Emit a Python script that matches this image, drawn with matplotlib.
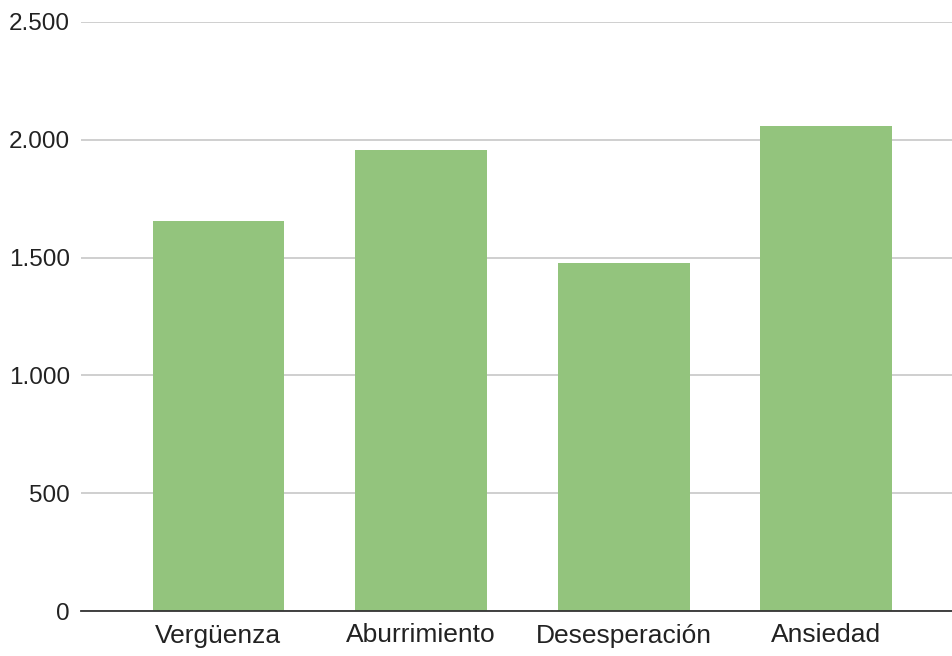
import matplotlib.pyplot as plt
from matplotlib.ticker import FuncFormatter

# Data
categories = ['Vergüenza', 'Aburrimiento', 'Desesperación', 'Ansiedad']
values = [1655, 1955, 1475, 2060]
y_ticks = [0, 500, 1000, 1500, 2000, 2500]

plt.rcParams['font.family'] = ['Liberation Sans', 'DejaVu Sans']

fig = plt.figure(figsize=(9.52, 6.56), dpi=100)
ax = fig.add_axes([81 / 952, 45 / 656, 871 / 952, 589 / 656])

x = list(range(len(categories)))
ax.bar(x, values, width=0.65, color='#93c47d', zorder=3)

ax.set_xlim(-0.678, 3.62)
ax.set_ylim(0, 2500)
ax.set_xticks(x)
ax.set_xticklabels(categories)
ax.set_yticks(y_ticks)
ax.yaxis.set_major_formatter(FuncFormatter(lambda v, p: f'{int(v):,}'.replace(',', '.')))

ax.grid(axis='y', color='#cccccc', linewidth=1.3, zorder=0)
for side in ['top', 'right', 'left']:
    ax.spines[side].set_visible(False)
ax.spines['bottom'].set_color('#333333')
ax.spines['bottom'].set_linewidth(1.3)
ax.spines['bottom'].set_zorder(4)

ax.tick_params(axis='both', length=0, labelcolor='#222222')
ax.tick_params(axis='y', pad=8, labelsize=17.5)
ax.tick_params(axis='x', pad=9, labelsize=19)

fig.savefig('out.png', dpi=100)
